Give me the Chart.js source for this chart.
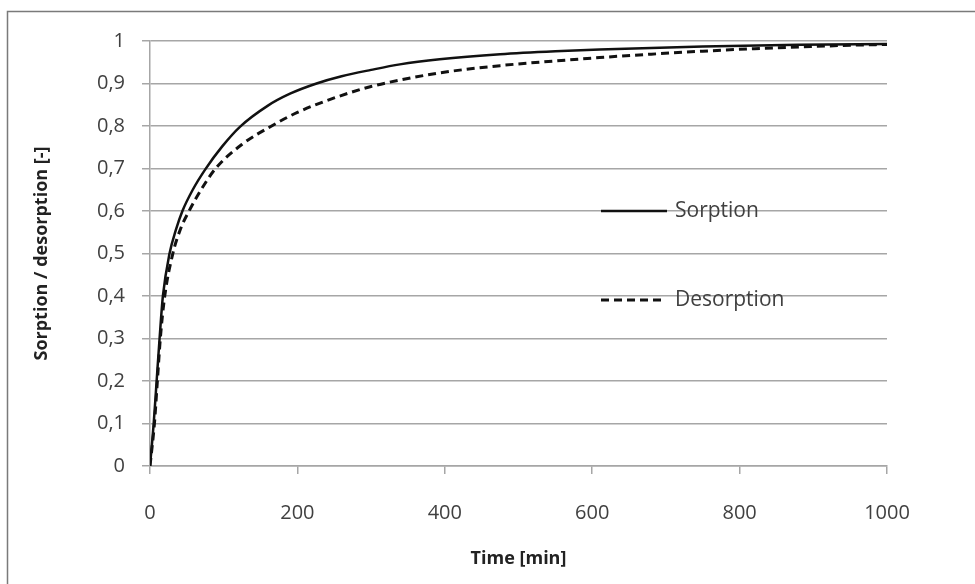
<!DOCTYPE html>
<html>
<head>
<meta charset="utf-8">
<script src="https://cdn.jsdelivr.net/npm/chart.js@4"></script>
<style>
  html, body { margin: 0; padding: 0; background: #fff; }
  #wrap { width: 975px; height: 584px; position: relative; }
</style>
</head>
<body>
<div id="wrap"><canvas id="sorpChart"></canvas></div>
<script>
// time [min] and value
var sorptionTime = [0, 5, 9, 13, 17.5, 26.5, 35, 44, 58, 75, 98, 122, 160, 190, 226, 260, 300, 339, 393, 475, 550, 610, 750, 880, 1000];
var sorptionValue = [0, 0.1, 0.2, 0.3, 0.4, 0.5, 0.555, 0.6, 0.65, 0.698, 0.752, 0.798, 0.848, 0.876, 0.9, 0.917, 0.932, 0.945, 0.957, 0.969, 0.976, 0.98, 0.987, 0.991, 0.993];

var desorptionTime = [0, 6, 10, 14, 20, 31, 41, 53, 70, 89, 125, 165, 200, 250, 300, 339, 393, 475, 550, 610, 680, 750, 820, 882, 950, 1000];
var desorptionValue = [0, 0.1, 0.2, 0.3, 0.4, 0.5, 0.556, 0.6, 0.652, 0.7, 0.757, 0.8, 0.832, 0.866, 0.893, 0.908, 0.925, 0.942, 0.953, 0.961, 0.969, 0.976, 0.982, 0.986, 0.99, 0.992];

var seriesLabels = ['Sorption', 'Desorption'];
var yTickLabels = ['0', '0,1', '0,2', '0,3', '0,4', '0,5', '0,6', '0,7', '0,8', '0,9', '1'];
var xTickLabels = ['0', '200', '400', '600', '800', '1000'];

var FONT = '"Open Sans", "Liberation Sans", sans-serif';
var GRID = '#a6a6a6';

function toPoints(xs, ys) {
	return xs.map(function (x, i) { return {x: x, y: ys[i]}; });
}

// grey frame round the whole figure
var framePlugin = {
	id: 'frame',
	beforeDraw: function (chart) {
		var c = chart.ctx;
		c.save();
		c.strokeStyle = '#7a7a7a';
		c.lineWidth = 1.5;
		c.strokeRect(7.5, 11.5, 1200, 1200);
		c.restore();
	}
};

// legend sits inside the plot, one row next to the 0,6 and 0,4 lines
var innerLegend = {
	id: 'innerLegend',
	afterDatasetsDraw: function (chart) {
		var c = chart.ctx;
		var rows = [{y: 211, x2: 667}, {y: 300, x2: 662}];
		c.save();
		chart.data.datasets.forEach(function (ds, i) {
			var r = rows[i];
			c.beginPath();
			c.strokeStyle = ds.borderColor;
			c.lineWidth = ds.borderWidth;
			c.setLineDash(ds.borderDash || []);
			c.moveTo(601, r.y);
			c.lineTo(r.x2, r.y);
			c.stroke();
			c.setLineDash([]);
			c.fillStyle = '#404040';
			c.font = '21px ' + FONT;
			c.textAlign = 'left';
			c.textBaseline = 'middle';
			c.fillText(ds.label, 675, r.y);
		});
		c.restore();
	}
};

var ctx = document.getElementById('sorpChart').getContext('2d');

new Chart(ctx, {
	type: 'scatter',
	data: {
		datasets: [
			{
				label: seriesLabels[0],
				data: toPoints(sorptionTime, sorptionValue),
				showLine: true,
				borderColor: '#111',
				borderWidth: 2.5,
				pointRadius: 0,
				cubicInterpolationMode: 'monotone'
			},
			{
				label: seriesLabels[1],
				data: toPoints(desorptionTime, desorptionValue),
				showLine: true,
				borderColor: '#111',
				borderWidth: 3,
				borderDash: [8, 5],
				pointRadius: 0,
				cubicInterpolationMode: 'monotone'
			}
		]
	},
	options: {
		responsive: true,
		maintainAspectRatio: false,
		animation: false,
		layout: { padding: { top: 41, right: 88, bottom: 0, left: 0 } },
		plugins: {
			legend: { display: false },
			tooltip: { enabled: false }
		},
		scales: {
			x: {
				type: 'linear',
				min: 0,
				max: 1000,
				afterFit: function (scale) { scale.height = 118; },
				ticks: {
					stepSize: 200,
					padding: 27,
					color: '#404040',
					font: { family: FONT, size: 20 },
					callback: function (v, i) { return xTickLabels[i]; }
				},
				grid: {
					drawOnChartArea: false,
					drawTicks: true,
					tickLength: 8,
					color: GRID,
					lineWidth: 1.5
				},
				border: { color: GRID, width: 1.5 },
				title: {
					display: true,
					text: 'Time [min]',
					color: '#222',
					font: { family: FONT, size: 18, weight: 'bold' },
					padding: { top: 0, bottom: 14 }
				}
			},
			y: {
				min: 0,
				max: 1,
				afterFit: function (scale) { scale.width = 150; },
				ticks: {
					stepSize: 0.1,
					padding: 17,
					color: '#404040',
					font: { family: FONT, size: 20 },
					callback: function (v, i) { return yTickLabels[i]; }
				},
				grid: {
					color: GRID,
					lineWidth: 1.5,
					tickLength: 8
				},
				border: { color: GRID, width: 1.5 },
				title: {
					display: true,
					text: 'Sorption / desorption [-]',
					color: '#222',
					font: { family: FONT, size: 18, weight: 'bold' },
					padding: { top: 31, bottom: 0 }
				}
			}
		}
	},
	plugins: [framePlugin, innerLegend]
});
</script>
</body>
</html>
